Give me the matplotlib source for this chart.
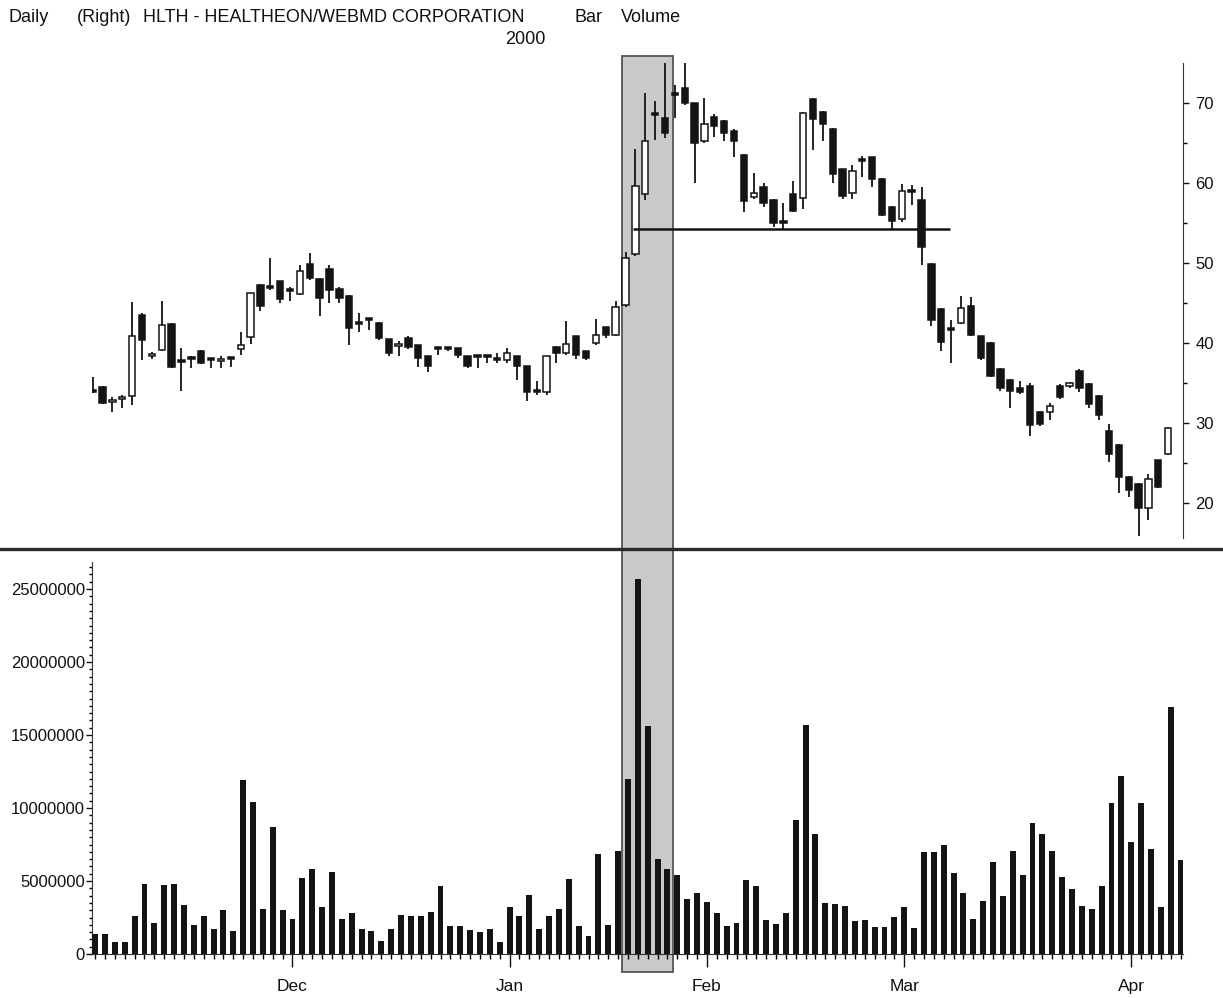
from matplotlib import pyplot as plt
from matplotlib.lines import Line2D
from matplotlib.patches import Rectangle
from matplotlib.ticker import FixedLocator, FuncFormatter, MultipleLocator
import matplotlib.transforms as mtransforms
import numpy as np
import pandas as pd

# Trading days, Nov 2 1999 - Apr 10 2000 (NYSE holidays removed)
holidays = ["1999-11-25", "1999-12-24", "2000-01-17", "2000-02-21"]
dates = pd.bdate_range("1999-11-02", "2000-04-10", freq="C", holidays=holidays)

opens = [34.0, 34.5, 32.6, 33.0, 33.3, 43.5, 38.3, 39.1, 42.4, 37.6,
         38.0, 39.0, 37.8, 37.7, 38.0, 39.25, 40.7, 47.3, 46.9, 47.8,
         46.5, 46.1, 49.9, 48.0, 49.3, 46.8, 45.9, 42.4, 42.9, 42.5,
         40.45, 39.6, 40.6, 39.7, 38.3, 39.25, 39.25, 39.3, 38.4, 38.2,
         38.2, 37.8, 37.9, 38.3, 37.05, 33.8, 33.8, 39.5, 38.7, 40.8,
         39.0, 39.95, 41.96, 41.0, 44.75, 51.1, 58.6, 68.5, 68.1, 71.0,
         71.9, 70.0, 65.3, 68.2, 67.8, 66.5, 63.5, 58.2, 59.5, 57.9,
         55.0, 58.6, 58.1, 70.5, 68.9, 66.8, 61.7, 58.7, 62.7, 63.2,
         60.5, 57.0, 55.5, 59.1, 57.9, 49.9, 44.2, 41.6, 42.5, 44.55,
         40.8, 40.0, 36.7, 35.4, 34.4, 34.6, 31.3, 31.3, 34.6, 34.6,
         36.5, 34.8, 33.4, 29.0, 27.2, 23.2, 22.4, 19.3, 25.3, 26.1]
highs = [35.7, 34.6, 33.2, 33.5, 45.1, 43.7, 38.9, 45.2, 42.5, 39.3,
         38.4, 39.1, 37.9, 38.3, 38.0, 41.4, 46.3, 47.4, 50.6, 47.8,
         46.95, 49.75, 51.3, 48.1, 49.75, 47.0, 46.0, 43.7, 43.1, 42.6,
         40.5, 40.25, 40.8, 39.7, 38.3, 39.5, 39.4, 39.3, 38.4, 38.5,
         38.4, 38.7, 39.3, 38.3, 37.05, 35.2, 38.4, 39.6, 42.7, 40.8,
         39.0, 42.96, 42.0, 45.2, 51.4, 64.3, 71.2, 70.2, 75.2, 72.2,
         74.96, 70.0, 70.6, 68.6, 67.9, 66.7, 63.6, 61.3, 60.0, 58.0,
         57.5, 60.2, 68.9, 70.6, 69.0, 66.9, 61.8, 62.25, 63.4, 63.3,
         60.6, 57.1, 59.9, 59.8, 59.5, 50.0, 44.3, 42.9, 45.9, 45.8,
         40.9, 40.1, 36.8, 35.5, 35.2, 35.0, 31.5, 32.5, 34.9, 35.1,
         36.7, 35.0, 33.5, 29.85, 27.3, 23.3, 22.5, 23.6, 25.4, 29.5]
lows = [33.7, 32.4, 31.3, 31.8, 32.25, 37.9, 38.0, 39.0, 36.8, 34.0,
        36.8, 37.3, 36.8, 36.8, 37.0, 38.5, 39.8, 44.0, 46.6, 45.0,
        45.2, 46.0, 47.9, 43.4, 45.0, 45.0, 39.75, 41.4, 41.6, 40.4,
        38.4, 38.4, 39.2, 37.0, 36.4, 38.5, 39.0, 38.1, 36.8, 36.9,
        37.5, 37.5, 37.5, 35.4, 32.7, 33.5, 33.5, 37.5, 38.5, 38.0,
        37.8, 39.7, 40.6, 40.8, 44.5, 50.9, 57.9, 65.4, 65.6, 68.1,
        69.8, 60.0, 65.0, 65.8, 65.2, 63.3, 56.4, 58.0, 57.0, 54.5,
        54.3, 56.4, 56.7, 64.1, 65.3, 60.0, 58.0, 58.0, 60.8, 59.5,
        55.9, 54.3, 55.1, 57.2, 49.7, 42.1, 39.0, 37.5, 42.3, 40.8,
        37.8, 35.7, 34.0, 31.9, 33.6, 28.4, 29.6, 30.3, 33.0, 34.4,
        33.8, 31.8, 30.3, 25.1, 21.2, 20.7, 15.8, 17.8, 21.8, 26.0]
closes = [33.9, 32.5, 32.7, 33.1, 40.9, 40.4, 38.5, 42.25, 37.0, 37.6,
          38.0, 37.5, 37.8, 37.9, 38.0, 39.75, 46.3, 44.6, 46.9, 45.5,
          46.5, 49.0, 48.1, 45.6, 46.6, 45.6, 41.8, 42.4, 42.9, 40.6,
          38.7, 39.8, 39.5, 38.1, 37.05, 39.25, 39.25, 38.5, 37.05, 38.2,
          38.2, 37.8, 38.7, 37.05, 33.9, 33.8, 38.3, 38.7, 39.9, 38.5,
          38.1, 41.0, 41.0, 44.5, 50.6, 59.6, 65.2, 68.5, 66.2, 71.0,
          70.0, 65.0, 67.4, 67.1, 66.2, 65.3, 57.7, 58.8, 57.5, 55.0,
          55.0, 56.5, 68.7, 68.0, 67.4, 61.1, 58.4, 61.5, 62.7, 60.5,
          56.0, 55.2, 59.0, 58.9, 52.0, 42.9, 40.1, 41.6, 44.3, 41.0,
          38.1, 35.9, 34.3, 34.0, 33.8, 29.7, 29.85, 32.1, 33.2, 35.0,
          34.4, 32.3, 31.0, 26.1, 23.2, 21.6, 19.4, 23.0, 22.0, 29.4]

# Daily volume, millions of shares
volume_m = [1.35, 1.4, 0.82, 0.82, 2.6, 4.8, 2.1, 4.7, 4.8, 3.36,
            2.0, 2.6, 1.7, 3.0, 1.6, 11.9, 10.4, 3.06, 8.7, 3.0,
            2.4, 5.2, 5.8, 3.2, 5.6, 2.4, 2.8, 1.7, 1.6, 0.9,
            1.74, 2.7, 2.6, 2.6, 2.9, 4.66, 1.9, 1.9, 1.64, 1.53,
            1.74, 0.84, 3.2, 2.6, 4.04, 1.74, 2.6, 3.1, 5.14, 1.9,
            1.26, 6.85, 2.0, 7.05, 12.0, 25.7, 15.6, 6.5, 5.8, 5.43,
            3.77, 4.2, 3.58, 2.83, 1.94, 2.15, 5.05, 4.66, 2.33, 2.03,
            2.83, 9.18, 15.7, 8.24, 3.52, 3.4, 3.29, 2.26, 2.35, 1.87,
            1.87, 2.56, 3.2, 1.76, 6.99, 6.99, 7.47, 5.53, 4.16, 2.37,
            3.6, 6.3, 3.97, 7.08, 5.43, 9.0, 8.22, 7.08, 5.3, 4.45,
            3.29, 3.1, 4.66, 10.37, 12.17, 7.67, 10.37, 7.17, 3.24, 16.9,
            6.44]

support_level = 54.25
highlight_days = (53.4, 58.56)
support_days = (54.5, 86.6)

FONT = ["Liberation Sans Narrow", "Liberation Sans", "DejaVu Sans"]
plt.rcParams["font.family"] = FONT
INK = "#141414"

fig = plt.figure(figsize=(12.23, 9.98), dpi=100)
left, width = 91.7 / 1223, (1183 - 91.7) / 1223
ax_p = fig.add_axes([left, 1 - 538 / 998, width, 475 / 998])
ax_v = fig.add_axes([left, 1 - 954 / 998, width, 392 / 998])
for ax in (ax_p, ax_v):
    ax.set_facecolor("none")
    ax.set_xlim(-0.35, 110.25)

# --- price candles ---
o = np.array(opens)
h = np.array(highs)
l = np.array(lows)
c = np.array(closes)
xc = np.arange(len(o)) - 0.25
up = c > o
ax_p.vlines(xc, l, h, color=INK, lw=1.3, zorder=2)
body_lo = np.minimum(o, c)
body_h = np.maximum(np.abs(c - o), 0.25)
ax_p.bar(xc, body_h, bottom=body_lo, width=0.64,
         color=np.where(up, "white", INK), edgecolor=INK, lw=1.1, zorder=3)
ax_p.hlines(support_level, *support_days, color=INK, lw=1.8, zorder=4)

ax_p.set_ylim(15.6, 75)
for side in ("left", "top", "bottom"):
    ax_p.spines[side].set_visible(False)
ax_p.spines["right"].set_color("#333333")
ax_p.yaxis.tick_right()
ax_p.yaxis.set_major_locator(FixedLocator([20, 30, 40, 50, 60, 70]))
ax_p.yaxis.set_minor_locator(FixedLocator([25, 35, 45, 55, 65]))
ax_p.tick_params(axis="y", which="major", direction="out", length=4,
                 width=1, labelsize=12, pad=5, colors="#111111")
ax_p.tick_params(axis="y", which="minor", direction="out", length=3, width=1)
ax_p.set_xticks([])

# --- volume bars ---
xv = np.arange(len(volume_m))
ax_v.bar(xv, np.array(volume_m) * 1e6, width=0.6, color=INK, zorder=3)
ax_v.set_ylim(0, 26.85e6)
ax_v.spines["top"].set_visible(False)
ax_v.spines["right"].set_visible(False)
ax_v.spines["left"].set_color("#333333")
ax_v.spines["bottom"].set_color("#333333")
ax_v.yaxis.set_major_locator(MultipleLocator(5e6))
ax_v.yaxis.set_minor_locator(MultipleLocator(5e5))
ax_v.yaxis.set_major_formatter(FuncFormatter(lambda v, p: f"{int(v)}"))
ax_v.tick_params(axis="y", which="major", direction="out", length=4,
                 width=1, labelsize=12, pad=1, colors="#111111")
ax_v.tick_params(axis="y", which="minor", direction="out", length=2.5, width=1)

month_start = [i for i in range(1, len(dates)) if dates[i].month != dates[i - 1].month]
ax_v.xaxis.set_major_locator(FixedLocator(month_start))
ax_v.xaxis.set_minor_locator(FixedLocator(xv))
ax_v.set_xticklabels([dates[i].strftime("%b") for i in month_start])
ax_v.tick_params(axis="x", which="major", direction="out", length=9,
                 width=1, labelsize=12.5, pad=9, colors="#111111")
ax_v.tick_params(axis="x", which="minor", direction="out", length=3.5, width=1)

# --- shaded breakout window spanning both panels ---
trans = mtransforms.blended_transform_factory(ax_v.transData, fig.transFigure)
fig.add_artist(Rectangle((highlight_days[0], 1 - 972 / 998),
                         highlight_days[1] - highlight_days[0], (972 - 56) / 998,
                         transform=trans, facecolor="#c9c9c9",
                         edgecolor="#555555", lw=1.3, zorder=-1))

# panel divider
fig.add_artist(Line2D([0, 1], [1 - 549 / 998] * 2, transform=fig.transFigure,
                      color="#2a2a2a", lw=2.4))

# header
header = [(8, "Daily"), (77, "(Right)"), (143, "HLTH - HEALTHEON/WEBMD CORPORATION"),
          (575, "Bar"), (621, "Volume")]
for x, txt in header:
    fig.text(x / 1223, 1 - 18 / 998, txt, fontsize=13, va="center", ha="left",
             color="#111111")
fig.text(546 / 1223, 1 - 40 / 998, "2000", fontsize=13, va="center", ha="right",
         color="#111111")

fig.savefig("out.png", dpi=100)
